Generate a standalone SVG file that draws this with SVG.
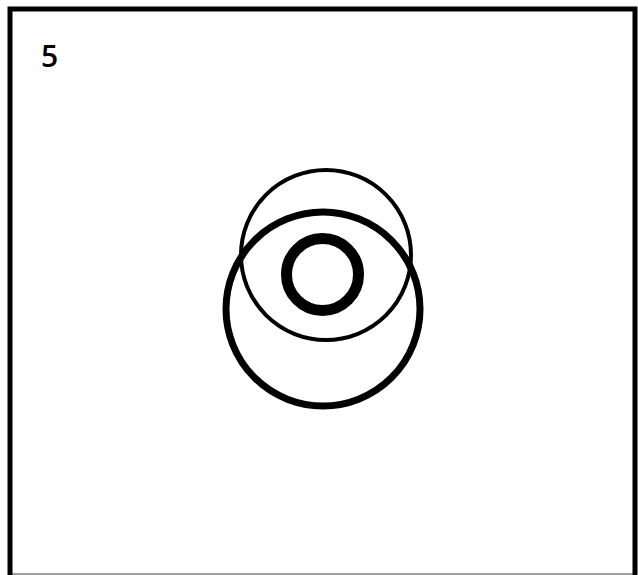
<svg xmlns="http://www.w3.org/2000/svg" width="638" height="575" viewBox="0 0 638 575">
<style>
.c{fill:none;stroke:#000}
.t{font-family:"Open Sans","DejaVu Sans",sans-serif;font-size:30px;font-weight:600;fill:#000}
</style>
<rect width="638" height="575" fill="#fff"/>
<g id="frame">
<path d="M10 575 V9 H635 V575" fill="none" stroke="#000" stroke-width="5"/>
<line x1="10" y1="574" x2="635" y2="574" stroke="#000" stroke-width="1.5" opacity="0.5"/>
</g>
<g id="label"><text class="t" x="41" y="67">5</text></g>
<g id="circle-top"><circle class="c" cx="326" cy="255" r="85" stroke-width="4"/></g>
<g id="circle-big"><circle class="c" cx="323" cy="309" r="97" stroke-width="7"/></g>
<g id="ring"><circle class="c" cx="322.5" cy="274.5" r="36" stroke-width="11"/></g>
</svg>
